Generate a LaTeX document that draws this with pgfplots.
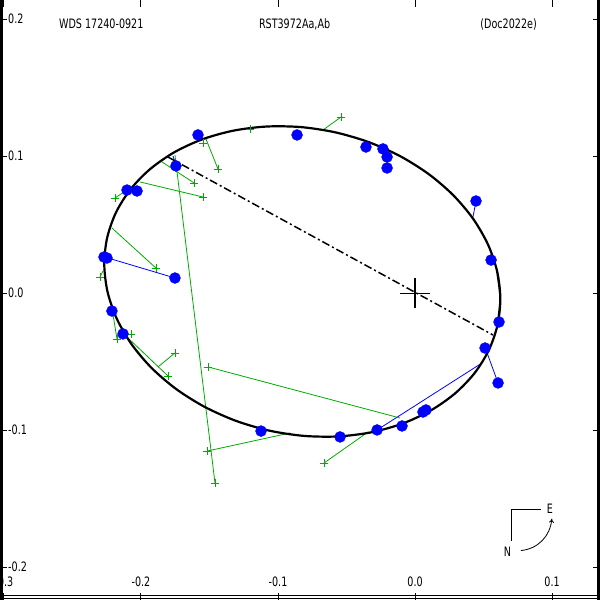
\documentclass[border=0pt]{standalone}
\usepackage{fontspec}
\setmainfont{DejaVu Sans}[FakeStretch=0.74]
\usepackage{pgfplots}
\pgfplotsset{compat=1.18}
\usetikzlibrary{arrows.meta}
\definecolor{obsblue}{RGB}{0,0,255}
\definecolor{msgreen}{RGB}{0,170,0}
\newcommand{\pf}{\fontsize{13}{13}\selectfont}
\newcommand{\gseg}[4]{\addplot[msgreen, line width=0.8bp, forget plot] coordinates {(#1,#2) (#3,#4)};}
\newcommand{\bseg}[4]{\addplot[obsblue, line width=0.8bp, forget plot] coordinates {(#1,#2) (#3,#4)};}
\begin{document}
\begin{tikzpicture}
\begin{axis}[
  scale only axis, width=600bp, height=600bp,
  xmin=-0.3029, xmax=0.1350, ymin=-0.2237, ymax=0.2142,
  axis line style={draw=none},
  xtick={-0.3,-0.2,-0.1,0,0.1}, xticklabels={-0.3,-0.2,-0.1,0.0,0.1},
  ytick={-0.2,-0.1,0,0.1,0.2}, yticklabels={-0.2,-0.1,0.0,0.1,0.2},
  tick align=inside, major tick length=7bp,
  tick style={black, line width=1bp},
  xticklabel style={font=\pf, anchor=base, inner sep=0pt, yshift=14bp},
  yticklabel style={font=\pf, anchor=west, inner sep=0pt, xshift=8bp, yshift=1bp},
]
\coordinate (SW) at (rel axis cs:0,0);
\coordinate (NE) at (rel axis cs:1,1);
% residual lines
\bseg{-0.1745}{0.0931}{-0.1766}{0.1004}
\bseg{-0.1752}{0.0113}{-0.2241}{0.0259}
\bseg{-0.0277}{-0.0996}{0.0489}{-0.0507}
\bseg{0.0606}{-0.0653}{0.0526}{-0.0434}
\bseg{0.0445}{0.0675}{0.0423}{0.0558}
\gseg{-0.0540}{0.1288}{-0.0672}{0.1193}
\gseg{-0.1438}{0.0909}{-0.1526}{0.1128}
\gseg{-0.1613}{0.0807}{-0.1847}{0.0960}
\gseg{-0.1547}{0.0704}{-0.2007}{0.0814}
\gseg{-0.2190}{0.0697}{-0.2102}{0.0755}
\gseg{-0.1460}{-0.1383}{-0.1752}{0.1011}
\gseg{-0.1891}{0.0186}{-0.2212}{0.0478}
\gseg{-0.2299}{0.0120}{-0.2277}{0.0164}
\gseg{-0.2175}{-0.0332}{-0.2204}{-0.0157}
\gseg{-0.1752}{-0.0434}{-0.1876}{-0.0536}
\gseg{-0.1803}{-0.0602}{-0.2102}{-0.0318}
\gseg{-0.1511}{-0.0536}{-0.0109}{-0.0909}
\gseg{-0.1518}{-0.1150}{-0.0912}{-0.1018}
\gseg{-0.0664}{-0.1237}{-0.0343}{-0.1011}
% orbit
\addplot[black, line width=2.2bp, smooth, forget plot] coordinates {
(0.06023,-0.02291) (0.06227,-0.00353) (0.05991,0.01622) (0.05324,0.03575)
(0.04244,0.05445) (0.02786,0.07177) (0.00993,0.08717) (-0.01080,0.10019)
(-0.03370,0.11043) (-0.05808,0.11759) (-0.08319,0.12143) (-0.10827,0.12185)
(-0.13256,0.11884) (-0.15533,0.11248) (-0.17587,0.10297) (-0.19357,0.09060)
(-0.20789,0.07574) (-0.21839,0.05884) (-0.22475,0.04043) (-0.22679,0.02105)
(-0.22443,0.00130) (-0.21776,-0.01823) (-0.20696,-0.03693) (-0.19238,-0.05425)
(-0.17445,-0.06965) (-0.15372,-0.08267) (-0.13082,-0.09291) (-0.10644,-0.10007)
(-0.08133,-0.10391) (-0.05625,-0.10433) (-0.03196,-0.10132) (-0.00919,-0.09496)
(0.01135,-0.08545) (0.02905,-0.07308) (0.04337,-0.05822) (0.05387,-0.04132)
(0.06023,-0.02291) (0.06227,-0.00353) (0.05991,0.01622)};
% line of nodes
\addplot[black, line width=1.5bp, dash pattern=on 8bp off 3bp on 2bp off 3bp, forget plot]
  coordinates {(-0.1803,0.0996) (0.0569,-0.0303)};
% origin
\addplot[only marks, mark=+, mark size=15bp, mark options={line width=1.3bp, black}, forget plot]
  coordinates {(0,0)};
% green measures
\addplot[only marks, mark=+, mark size=3.8bp, mark options={line width=0.8bp, msgreen}, forget plot]
  coordinates {(-0.0540,0.1288) (-0.1204,0.1201) (-0.1547,0.1099) (-0.1438,0.0909)
  (-0.1613,0.0807) (-0.1547,0.0704) (-0.2190,0.0697) (-0.1460,-0.1383)
  (-0.1891,0.0186) (-0.2299,0.0120) (-0.2175,-0.0332) (-0.2073,-0.0296)
  (-0.1752,-0.0434) (-0.1803,-0.0602) (-0.1511,-0.0536) (-0.1518,-0.1150)
  (-0.0664,-0.1237)};
% blue observations
\addplot[only marks, mark=*, mark size=5.5bp, mark options={draw=obsblue, fill=obsblue}, forget plot]
  coordinates {(-0.1584,0.1157) (-0.1745,0.0931) (-0.2102,0.0755) (-0.2029,0.0748)
  (-0.2270,0.0266) (-0.2248,0.0259) (-0.1752,0.0113) (-0.2212,-0.0128)
  (-0.2131,-0.0295) (-0.1124,-0.1004) (-0.0547,-0.1047) (-0.0277,-0.0996)
  (-0.0095,-0.0967) (0.0058,-0.0865) (0.0080,-0.0850) (0.0511,-0.0398)
  (0.0606,-0.0653) (0.0613,-0.0208) (0.0555,0.0244) (0.0445,0.0675)
  (-0.0861,0.1157) (-0.0358,0.1069) (-0.0234,0.1055) (-0.0204,0.0996)
  (-0.0204,0.0916)};
% titles
\node[font=\pf, anchor=base] at (axis cs:-0.2290,0.1935) {WDS 17240-0921};
\node[font=\pf, anchor=base] at (axis cs:-0.0879,0.1935) {RST3972Aa,Ab};
\node[font=\pf, anchor=base] at (axis cs:0.0683,0.1935) {(Doc2022e)};
% compass
\draw[black, line width=0.8bp] (axis cs:0.0920,-0.1573) -- (axis cs:0.0701,-0.1573) -- (axis cs:0.0701,-0.1807);
\node[font=\pf] at (axis cs:0.0985,-0.1573) {E};
\node[font=\pf] at (axis cs:0.0674,-0.1885) {N};
\draw[black, line width=0.8bp, -{To[length=4bp,width=5bp]}] (axis cs:0.0772,-0.1876) to[out=5,in=-95] (axis cs:0.0998,-0.1644);
\end{axis}
\draw[line width=3bp] ([xshift=1.5bp]SW) -- ([xshift=1.5bp]SW |- NE);
\draw[line width=3bp] ([xshift=-1.5bp]NE) -- ([xshift=-1.5bp]NE |- SW);
\draw[line width=1.2bp] ([yshift=1.5bp]SW) -- ([yshift=1.5bp]SW -| NE);
\draw[line width=1.2bp] ([yshift=4.8bp]SW) -- ([yshift=4.8bp]SW -| NE);
\pgfresetboundingbox
\path[use as bounding box] (SW) rectangle (NE);
\end{tikzpicture}
\end{document}
